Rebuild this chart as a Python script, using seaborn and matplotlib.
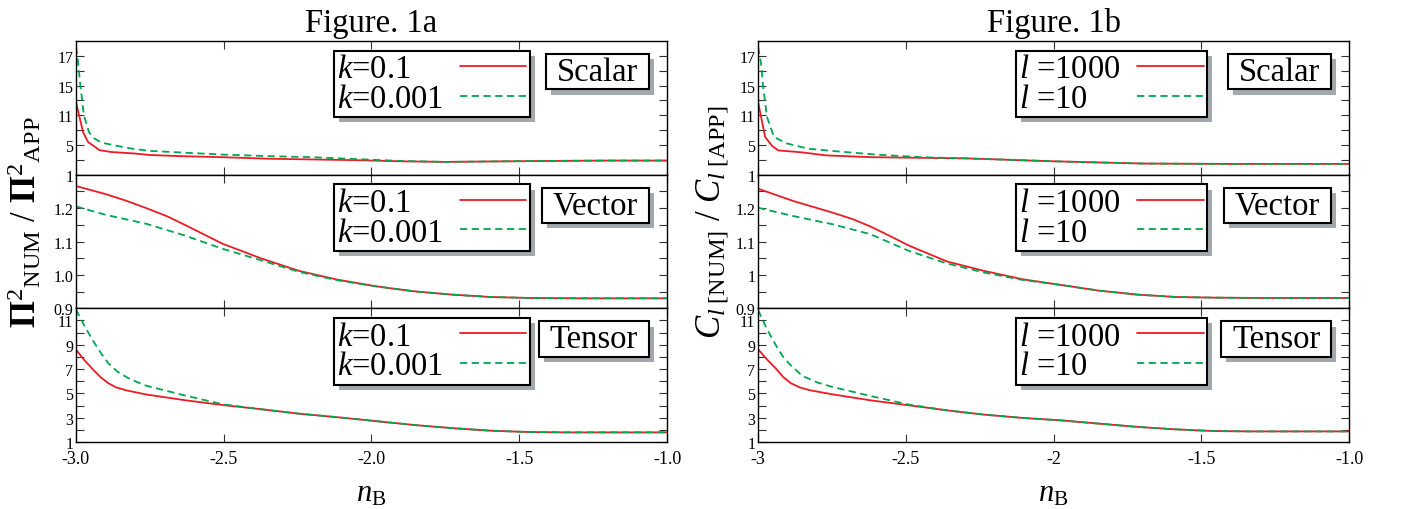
import numpy as np
import pandas as pd
import seaborn as sns
import matplotlib.pyplot as plt
import matplotlib.patheffects as pe

sns.set_theme(style='ticks')
plt.rcParams['font.family'] = ['Liberation Serif', 'DejaVu Serif']
plt.rcParams['mathtext.fontset'] = 'custom'
plt.rcParams['mathtext.rm'] = 'Liberation Serif'
plt.rcParams['mathtext.it'] = 'Liberation Serif:italic'
plt.rcParams['mathtext.bf'] = 'Liberation Serif:bold'
plt.rcParams['axes.unicode_minus'] = False
plt.rcParams['axes.edgecolor'] = 'black'
plt.rcParams['axes.linewidth'] = 1.0
for key in ['text.color', 'axes.labelcolor', 'xtick.labelcolor', 'ytick.labelcolor']:
    plt.rcParams[key] = 'black'

RED = '#ed1c24'
GREEN = '#00a651'

# ---- Figure 1a : Pi^2_NUM / Pi^2_APP ----
# scalar
nb_sa_r = [-3.0, -2.976, -2.959, -2.92, -2.88, -2.8, -2.75, -2.65, -2.5, -2.35, -2.2, -2.05, -1.9, -1.75, -1.6, -1.4, -1.2, -1.0]
sa_r = [12.8, 7.6, 5.6, 4.3, 4.05, 3.85, 3.65, 3.5, 3.35, 3.15, 3.05, 2.95, 2.8, 2.72, 2.78, 2.85, 2.9, 2.9]
nb_sa_g = [-3.0, -2.995, -2.985, -2.973, -2.956, -2.94, -2.92, -2.9, -2.85, -2.81, -2.75, -2.65, -2.5, -2.35, -2.2, -2.05, -1.9, -1.75, -1.6, -1.4, -1.2, -1.0]
sa_g = [17.6, 17.0, 15.0, 11.0, 7.6, 6.4, 5.7, 5.3, 4.8, 4.5, 4.2, 4.0, 3.7, 3.5, 3.35, 3.1, 2.85, 2.72, 2.78, 2.85, 2.9, 2.9]
# vector
nb_va_r = [-3.0, -2.9, -2.83, -2.762, -2.69, -2.632, -2.503, -2.375, -2.245, -2.116, -1.986, -1.857, -1.727, -1.598, -1.468, -1.3, -1.0]
va_r = [1.266, 1.242, 1.222, 1.200, 1.175, 1.150, 1.093, 1.050, 1.012, 0.986, 0.966, 0.951, 0.941, 0.934, 0.931, 0.93, 0.93]
nb_va_g = [-3.0, -2.9, -2.762, -2.632, -2.503, -2.375, -2.245, -2.116, -1.986, -1.857, -1.727, -1.598, -1.468, -1.3, -1.0]
va_g = [1.205, 1.18, 1.153, 1.118, 1.078, 1.044, 1.009, 0.984, 0.966, 0.951, 0.941, 0.934, 0.931, 0.93, 0.93]
# tensor
nb_ta_r = [-3.0, -2.97, -2.942, -2.915, -2.891, -2.865, -2.826, -2.762, -2.632, -2.503, -2.375, -2.245, -2.116, -1.986, -1.857, -1.727, -1.598, -1.468, -1.34, -1.0]
ta_r = [8.6, 7.7, 6.95, 6.3, 5.85, 5.5, 5.23, 4.91, 4.44, 4.04, 3.70, 3.33, 3.04, 2.72, 2.40, 2.14, 1.93, 1.82, 1.79, 1.79]
nb_ta_g = [-3.0, -2.97, -2.942, -2.915, -2.891, -2.86, -2.826, -2.79, -2.762, -2.632, -2.503, -2.375, -2.245, -2.116, -1.986, -1.857, -1.727, -1.598, -1.468, -1.34, -1.0]
ta_g = [11.9, 10.5, 9.33, 8.3, 7.5, 6.8, 6.3, 5.9, 5.63, 4.83, 4.1, 3.70, 3.33, 3.04, 2.72, 2.40, 2.14, 1.93, 1.82, 1.79, 1.79]

# ---- Figure 1b : C_l[NUM] / C_l[APP] ----
nb_sb_r = [-3.0, -2.976, -2.953, -2.932, -2.85, -2.77, -2.62, -2.45, -2.3, -2.15, -2.0, -1.85, -1.7, -1.55, -1.4, -1.2, -1.0]
sb_r = [12.8, 6.6, 4.9, 4.27, 4.0, 3.6, 3.36, 3.27, 3.2, 3.0, 2.8, 2.65, 2.5, 2.47, 2.45, 2.45, 2.45]
nb_sb_g = [-3.0, -2.99, -2.983, -2.97, -2.946, -2.902, -2.83, -2.75, -2.6, -2.45, -2.3, -2.15, -2.0, -1.85, -1.7, -1.55, -1.4, -1.2, -1.0]
sb_g = [17.6, 16.5, 14.9, 10.7, 6.6, 5.3, 4.5, 4.2, 3.7, 3.36, 3.2, 3.0, 2.8, 2.65, 2.5, 2.47, 2.45, 2.45, 2.45]
nb_vb_r = [-3.0, -2.88, -2.75, -2.68, -2.62, -2.555, -2.49, -2.36, -2.235, -2.105, -1.976, -1.847, -1.716, -1.587, -1.46, -1.3, -1.0]
vb_r = [1.258, 1.221, 1.187, 1.167, 1.145, 1.117, 1.088, 1.040, 1.012, 0.987, 0.970, 0.953, 0.941, 0.934, 0.932, 0.931, 0.931]
nb_vb_g = [-3.0, -2.88, -2.75, -2.62, -2.555, -2.49, -2.36, -2.235, -2.105, -1.976, -1.847, -1.716, -1.587, -1.46, -1.3, -1.0]
vb_g = [1.201, 1.176, 1.152, 1.122, 1.097, 1.072, 1.034, 1.007, 0.985, 0.970, 0.953, 0.941, 0.934, 0.932, 0.931, 0.931]
nb_tb_r = [-3.0, -2.97, -2.94, -2.915, -2.89, -2.86, -2.825, -2.75, -2.62, -2.49, -2.36, -2.235, -2.105, -1.976, -1.847, -1.716, -1.587, -1.46, -1.33, -1.0]
tb_r = [8.64, 7.8, 7.05, 6.35, 5.85, 5.5, 5.26, 4.93, 4.43, 4.02, 3.6, 3.25, 2.98, 2.78, 2.51, 2.24, 2.04, 1.9, 1.87, 1.87]
nb_tb_g = [-3.0, -2.97, -2.94, -2.915, -2.89, -2.85, -2.8, -2.75, -2.62, -2.49, -2.36, -2.235, -2.105, -1.976, -1.847, -1.716, -1.587, -1.46, -1.33, -1.0]
tb_g = [11.86, 10.3, 8.97, 8.0, 7.32, 6.44, 5.9, 5.54, 4.79, 4.08, 3.6, 3.25, 2.98, 2.78, 2.51, 2.24, 2.04, 1.9, 1.87, 1.87]

labels_a = ['$k$=0.1', '$k$=0.001']
labels_b = ['$l$ =1000', '$l$ =10']
modes = ['Scalar', 'Vector', 'Tensor']
titles = ['Figure. 1a', 'Figure. 1b']

# axis ticks
xticks = [-3.0, -2.5, -2.0, -1.5, -1.0]
xtick_labels_a = ['-3.0', '-2.5', '-2.0', '-1.5', '-1.0']
xtick_labels_b = ['-3', '-2.5', '-2', '-1.5', '-1.0']
scal_ticks = [1, 5, 11, 15, 17]
vec_ticks = [0.9, 1.0, 1.1, 1.2]
vec_labels_a = ['0.9', '1.0', '1.1', '1.2']
vec_labels_b = ['0.9', '1', '1.1', '1.2']
ten_ticks = [1, 3, 5, 7, 9, 11]

rows = []
def add(fig_id, mode, series, nb, val):
    for x, y in zip(nb, val):
        rows.append(dict(fig=fig_id, mode=mode, series=series, nB=x, ratio=y))

add('a', 'Scalar', 0, nb_sa_r, sa_r); add('a', 'Scalar', 1, nb_sa_g, sa_g)
add('a', 'Vector', 0, nb_va_r, va_r); add('a', 'Vector', 1, nb_va_g, va_g)
add('a', 'Tensor', 0, nb_ta_r, ta_r); add('a', 'Tensor', 1, nb_ta_g, ta_g)
add('b', 'Scalar', 0, nb_sb_r, sb_r); add('b', 'Scalar', 1, nb_sb_g, sb_g)
add('b', 'Vector', 0, nb_vb_r, vb_r); add('b', 'Vector', 1, nb_vb_g, vb_g)
add('b', 'Tensor', 0, nb_tb_r, tb_r); add('b', 'Tensor', 1, nb_tb_g, tb_g)
df = pd.DataFrame(rows)

# scalar panels use an evenly spaced, non-uniform labelled axis
s_pos = [0, 2, 4, 6, 8, 10]
s_val = scal_ticks + [19]
def s_fwd(v):
    return np.interp(v, s_val, s_pos)
def s_inv(p):
    return np.interp(p, s_pos, s_val)

fig = plt.figure(figsize=(14.01, 5.10), dpi=100)
gs = fig.add_gridspec(3, 2, left=0.0542, right=0.963, top=0.9176, bottom=0.1314,
                      hspace=0, wspace=0.154)

shadow = [pe.SimplePatchShadow(offset=(3.8, -3.8), shadow_rgbFace='#a3a8ad', alpha=1.0),
          pe.Normal()]
legends = []
for c, fig_id in enumerate(['a', 'b']):
    labels = labels_a if fig_id == 'a' else labels_b
    for r, mode in enumerate(modes):
        ax = fig.add_subplot(gs[r, c])
        sub = df[(df['fig'] == fig_id) & (df['mode'] == mode)]
        sns.lineplot(data=sub, x='nB', y='ratio', hue='series', style='series',
                     hue_order=[0, 1], style_order=[0, 1], palette=[RED, GREEN],
                     dashes=['', (4, 2.5)], linewidth=1.3, estimator=None,
                     legend=False, ax=ax)
        ax.set_xlim(-3, -1)
        ax.set_xticks(xticks)
        if mode == 'Scalar':
            ax.set_yscale('function', functions=(s_fwd, s_inv))
            ax.set_ylim(1, 18)
            ax.set_yticks(scal_ticks, [str(t) for t in scal_ticks])
            ax.set_yticks(list(s_inv(np.array([1, 3, 5, 7]))), minor=True)
        elif mode == 'Vector':
            ax.set_ylim(0.9, 1.3)
            ax.set_yticks(vec_ticks, vec_labels_a if fig_id == 'a' else vec_labels_b)
            ax.set_yticks([0.95, 1.05, 1.15, 1.25], minor=True)
        else:
            ax.set_ylim(1, 12)
            ax.set_yticks(ten_ticks, [str(t) for t in ten_ticks])
            ax.set_yticks([2, 4, 6, 8, 10], minor=True)
        ax.tick_params(which='both', direction='in', top=True, right=True,
                       length=6, width=0.8, color='#333333', labelsize=11.5, pad=2)
        ax.tick_params(axis='x', pad=6, labelsize=13)
        ax.set_xlabel('')
        ax.set_ylabel('')
        if r < 2:
            ax.tick_params(labelbottom=False)
        else:
            ax.set_xticklabels(xtick_labels_a if fig_id == 'a' else xtick_labels_b)
            ax.set_xlabel('$n_{\\mathrm{B}}$', fontsize=22, labelpad=8)

        leg = ax.legend(ax.get_lines()[:2], labels, loc='upper left',
                        bbox_to_anchor=(0.436, 0.928), borderaxespad=0,
                        markerfirst=False, fontsize=23.5, frameon=True, fancybox=False,
                        edgecolor='black', framealpha=1, borderpad=0.1,
                        labelspacing=-0.03, handlelength=2.05, handletextpad=0.5)
        leg.get_frame().set_linewidth(1.5)
        leg.get_frame().set_path_effects(shadow)
        legends.append(leg)

        t = ax.text(0.951, 0.885, mode, transform=ax.transAxes, ha='right', va='top',
                    fontsize=23.5,
                    bbox=dict(boxstyle='square,pad=0.33', mutation_aspect=0.22,
                              fc='white', ec='black', lw=1.5))
        t.get_bbox_patch().set_path_effects(shadow)
        if r == 0:
            ax.set_title(titles[c], fontsize=23.5, pad=7)

fig.text(25 / 1401, 1 - 222 / 510,
         '$\\mathbf{\\Pi}^{2}{}_{\\mathrm{NUM}}$ / $\\mathbf{\\Pi}^{2}{}_{\\mathrm{APP}}$',
         rotation=90, ha='center', va='center', fontsize=25)
fig.text(713 / 1401, 1 - 222 / 510,
         '$C_{l\\ [\\mathrm{NUM}]}$ / $C_{l\\ [\\mathrm{APP}]}$',
         rotation=90, ha='center', va='center', fontsize=25)

# keep legend line samples aligned on the right while text stays left aligned
fig.canvas.draw()
rend = fig.canvas.get_renderer()
for leg in legends:
    widths = [tx.get_window_extent(rend).width for tx in leg.get_texts()]
    col = leg._legend_handle_box.get_children()[0]
    for item, w in zip(col.get_children(), widths):
        item.sep += (max(widths) - w) * 72.0 / fig.dpi

fig.savefig('out.png', dpi=100)
